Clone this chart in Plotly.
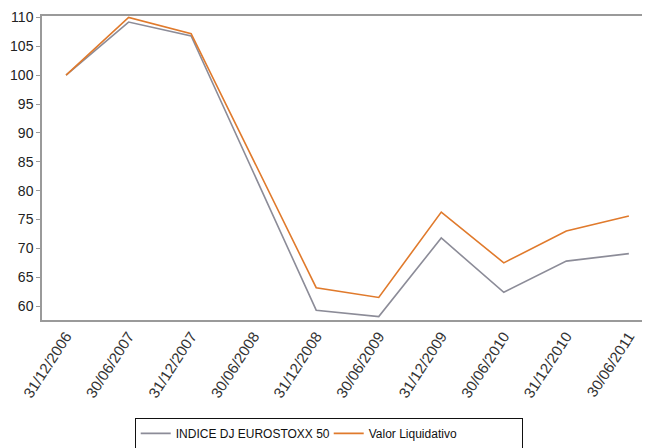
import plotly.graph_objects as go

dates = ["31/12/2006", "30/06/2007", "31/12/2007", "30/06/2008", "31/12/2008",
         "30/06/2009", "31/12/2009", "30/06/2010", "31/12/2010", "30/06/2011"]
indice = [100.0, 109.2, 106.8, 82.9, 59.3, 58.2, 71.8, 62.4, 67.8, 69.1]
valor = [100.0, 110.0, 107.2, 85.3, 63.2, 61.5, 76.3, 67.5, 73.0, 75.6]
y_ticks = [60, 65, 70, 75, 80, 85, 90, 95, 100, 105, 110]

FONT = "Liberation Sans, Arial, sans-serif"

fig = go.Figure()
fig.add_trace(go.Scatter(x=dates, y=indice, mode="lines", name="INDICE DJ EUROSTOXX 50",
                         line=dict(color="#8c8c98", width=1.6)))
fig.add_trace(go.Scatter(x=dates, y=valor, mode="lines", name="Valor Liquidativo",
                         line=dict(color="#e07a2c", width=1.6)))

fig.update_layout(
    width=650, height=448,
    margin=dict(l=34, r=6, t=8, b=136, autoexpand=False),
    paper_bgcolor="white", plot_bgcolor="white",
    font=dict(family=FONT, size=14, color="#222222"),
    showlegend=True,
    legend=dict(orientation="h", x=0.152, xanchor="left", y=-0.322, yanchor="top",
                bordercolor="#111111", borderwidth=1, bgcolor="white",
                font=dict(family=FONT, size=12, color="#111111"),
                itemwidth=30, tracegroupgap=0,
                entrywidth=148, entrywidthmode="pixels"),
    xaxis=dict(type="category", range=[-0.385, 9.37], tickangle=-57,
               showline=True, linecolor="#9a9a9a", linewidth=1.5, mirror=True,
               showgrid=False, ticks="", zeroline=False, automargin=False,
               tickfont=dict(family=FONT, size=15, color="#333333")),
    yaxis=dict(range=[57.6, 110.25], tickvals=y_ticks,
               showline=True, linecolor="#9a9a9a", linewidth=1.5, mirror=True,
               showgrid=False, ticks="outside", ticklen=4, tickcolor="#9a9a9a",
               zeroline=False, automargin=False,
               tickfont=dict(family=FONT, size=14, color="#222222")),
)

fig.write_html("out.html")
